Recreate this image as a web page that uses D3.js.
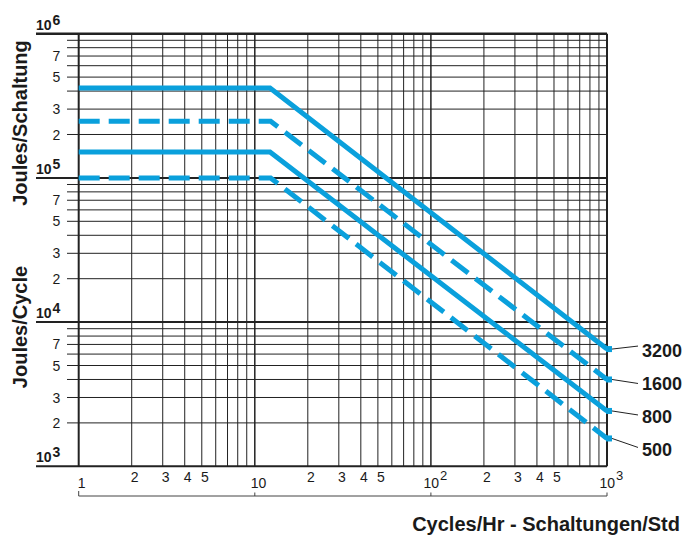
<!DOCTYPE html>
<html>
<head>
<meta charset="utf-8">
<script src="https://cdn.jsdelivr.net/npm/d3@7"></script>
<style>
  html, body { margin: 0; padding: 0; background: #fff; }
  svg { display: block; }
  text { font-family: "Liberation Sans", Arial, Helvetica, sans-serif; fill: #1a1a1a; }
</style>
</head>
<body>
<svg id="chart" width="685" height="535"></svg>
<script>
// ---- data ----
const xDomain = [1, 1000];          // Cycles/Hr
const yDomain = [1e3, 1e6];         // Joules
const seriesLabels = ["3200", "1600", "800", "500"];
const plateauJoules = [4.2e5, 2.47e5, 1.51e5, 1.0e5];
const kneeCycles = [12.2, 12.3, 12.2, 12.3];
const endJoules = [6.5e3, 4.0e3, 2.42e3, 1.56e3];
const dashedSeries = [false, true, false, true];
const yMinorLabels = [2, 3, 5, 7];
const xMinorLabels = [2, 3, 4, 5];
const yDecadeExp = [3, 4, 5, 6];
const xDecadeExp = [0, 1, 2, 3];

// ---- layout ----
const svg = d3.select("#chart");
const x = d3.scaleLog().domain(xDomain).range([78.7, 607]);
const y = d3.scaleLog().domain(yDomain).range([466.3, 33.7]);
const blue = "#0aa0dc";
const gridColor = "#222";

const isDecade = v => Math.abs(Math.log10(v) - Math.round(Math.log10(v))) < 1e-9;

// horizontal grid
const yTicks = y.ticks();
svg.append("g").selectAll("line").data(yTicks).join("line")
  .attr("x1", d => isDecade(d) ? 36 : 67)
  .attr("x2", x(xDomain[1]))
  .attr("y1", d => y(d)).attr("y2", d => y(d))
  .attr("stroke", gridColor)
  .attr("stroke-width", d => d === yDomain[1] ? 2.5 : (isDecade(d) ? 2 : 1));

// vertical grid
const xTicks = x.ticks();
svg.append("g").selectAll("line").data(xTicks).join("line")
  .attr("x1", d => x(d)).attr("x2", d => x(d))
  .attr("y1", y(yDomain[1])).attr("y2", y(yDomain[0]))
  .attr("stroke", gridColor)
  .attr("stroke-width", d => (d === xDomain[0] || d === xDomain[1]) ? 2 : (isDecade(d) ? 1.5 : 1));

// y minor labels
const yMinorVals = [];
[1e3, 1e4, 1e5].forEach(dec => yMinorLabels.forEach(m => yMinorVals.push({v: dec * m, m})));
svg.append("g").selectAll("text").data(yMinorVals).join("text")
  .attr("x", 56.5).attr("y", d => y(d.v))
  .attr("dy", "0.36em")
  .attr("text-anchor", "middle")
  .attr("font-size", 14)
  .text(d => d.m);

// y decade labels
const yDec = svg.append("g").selectAll("text").data(yDecadeExp).join("text")
  .attr("x", 36).attr("y", d => y(Math.pow(10, d)) - 4)
  .attr("font-size", 14).attr("font-weight", "bold");
yDec.append("tspan").text("10");
yDec.append("tspan").attr("dx", 1).attr("dy", -5).text(d => d);

// x minor labels
const xMinorVals = [];
[1, 10, 100].forEach(dec => xMinorLabels.forEach(m => xMinorVals.push({v: dec * m, m})));
svg.append("g").selectAll("text").data(xMinorVals).join("text")
  .attr("x", d => x(d.v) + 3).attr("y", 481.5)
  .attr("text-anchor", "middle")
  .attr("font-size", 14)
  .text(d => d.m);

// x decade labels
const xDec = svg.append("g").selectAll("text").data(xDecadeExp).join("text")
  .attr("y", 488)
  .attr("font-size", 14)
  .attr("x", d => d === 0 ? x(1) - 1 : (d === 1 ? x(10) - 4 : x(Math.pow(10, d)) - 7.5));
xDec.append("tspan").text(d => d === 0 ? "1" : "10");
xDec.filter(d => d >= 2).append("tspan").attr("dx", 1).attr("dy", -8).attr("font-size", 13).text(d => d);

// bracket under x axis
const bracketY = 496;
svg.append("line").attr("x1", x(1)).attr("x2", x(1000)).attr("y1", bracketY).attr("y2", bracketY)
  .attr("stroke", "#444").attr("stroke-width", 1);
svg.append("g").selectAll("line").data(xDecadeExp).join("line")
  .attr("x1", d => x(Math.pow(10, d))).attr("x2", d => x(Math.pow(10, d)))
  .attr("y1", d => (d === 0 ? 491 : 492.5)).attr("y2", bracketY)
  .attr("stroke", "#444").attr("stroke-width", 1);

// series
const series = seriesLabels.map((lab, i) => ({
  label: lab,
  dashed: dashedSeries[i],
  pts: [[xDomain[0], plateauJoules[i]], [kneeCycles[i], plateauJoules[i]], [xDomain[1], endJoules[i]]],
  end: endJoules[i]
}));
const lineGen = d3.line().x(d => x(d[0])).y(d => y(d[1]));
svg.append("g").selectAll("path").data(series).join("path")
  .attr("d", d => lineGen(d.pts))
  .attr("fill", "none")
  .attr("stroke", blue)
  .attr("stroke-width", 5)
  .attr("stroke-linejoin", "miter")
  .attr("stroke-dasharray", d => d.dashed ? "21,9" : null);

// end markers
svg.append("g").selectAll("rect").data(series).join("rect")
  .attr("x", x(xDomain[1]) - 1).attr("y", d => y(d.end) - 3)
  .attr("width", 6).attr("height", 6)
  .attr("fill", blue);

// leader lines + labels
const labelOffsets = [1, 4, 6, 11];
const leaderOffsets = [-3, 4, 4, 9];
svg.append("g").selectAll("line").data(series).join("line")
  .attr("x1", x(xDomain[1]) + 5).attr("y1", d => y(d.end))
  .attr("x2", 638).attr("y2", (d, i) => y(d.end) + leaderOffsets[i])
  .attr("stroke", "#222").attr("stroke-width", 1);
svg.append("g").selectAll("text").data(series).join("text")
  .attr("x", 642).attr("y", (d, i) => y(d.end) + labelOffsets[i])
  .attr("dy", "0.36em")
  .attr("font-size", 18).attr("font-weight", "bold")
  .text(d => d.label);

// axis titles
svg.append("text").attr("x", 680).attr("y", 530.5)
  .attr("text-anchor", "end").attr("font-size", 20).attr("font-weight", "bold")
  .text("Cycles/Hr - Schaltungen/Std");
svg.append("text").attr("transform", "translate(27,123) rotate(-90)")
  .attr("text-anchor", "middle").attr("font-size", 20).attr("font-weight", "bold")
  .text("Joules/Schaltung");
svg.append("text").attr("transform", "translate(27,327) rotate(-90)")
  .attr("text-anchor", "middle").attr("font-size", 20).attr("font-weight", "bold")
  .text("Joules/Cycle");
</script>
</body>
</html>
